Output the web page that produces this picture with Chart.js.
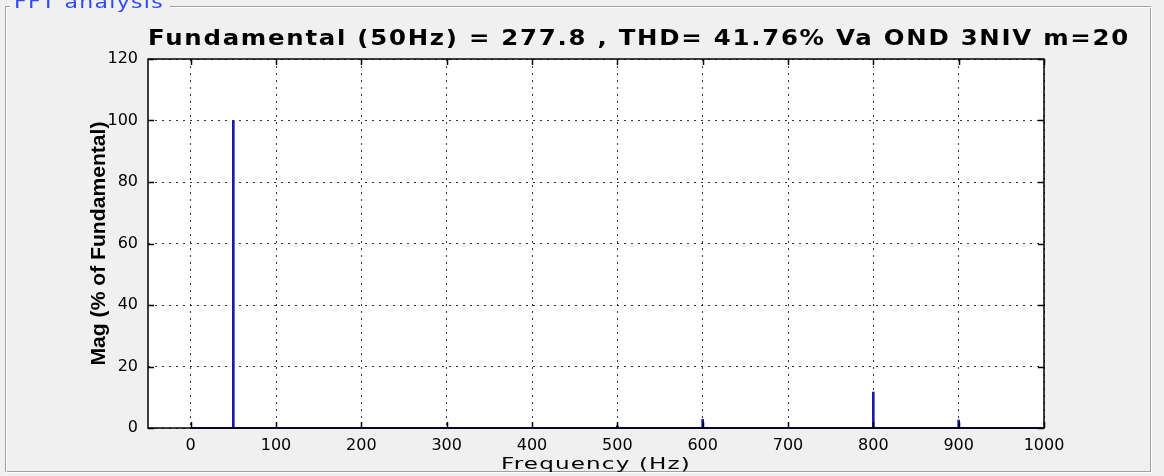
<!DOCTYPE html>
<html lang="en">
<head>
<meta charset="UTF-8">
<title>FFT analysis</title>
<script src="https://cdn.jsdelivr.net/npm/chart.js"></script>
<style>
  html, body { margin: 0; padding: 0; background: #f0f0f0; overflow: hidden; }
</style>
</head>
<body>
<canvas id="fft" width="1164" height="476"></canvas>
<script>
// harmonic frequencies (Hz) and magnitudes (% of fundamental)
const freqs = [0, 50, 100, 150, 200, 250, 300, 350, 400, 450, 500, 550, 600, 650, 700, 750, 800, 850, 900, 950, 1000];
const mags  = [0, 100, 0, 0, 0.2, 0, 0.2, 0, 0.2, 0, 0.7, 0, 2.8, 0, 0.2, 0, 11.7, 0, 2.6, 0, 0];
const xTicks = [0, 100, 200, 300, 400, 500, 600, 700, 800, 900, 1000];
const yTicks = [0, 20, 40, 60, 80, 100, 120];

const titleText = 'Fundamental (50Hz) = 277.8 , THD= 41.76% Va OND 3NIV m=20';
const xTitle = 'Frequency (Hz)';
const yTitle = 'Mag (% of Fundamental)';
const panelLabel = 'FFT analysis';

const BLUE = '#1a1aa6';
const FONT = '"Liberation Sans", Arial, sans-serif';
const WIDE = '"DejaVu Sans", Verdana, sans-serif';

// draw text with a little letter spacing, stretched horizontally to a width
function fitText(ctx, text, x, y, width, spacing) {
  ctx.letterSpacing = spacing + 'px';
  const w = ctx.measureText(text).width;
  ctx.save();
  ctx.translate(x, y);
  ctx.scale(width / w, 1);
  ctx.fillText(text, 0, 0);
  ctx.restore();
  ctx.letterSpacing = '0px';
}

// panel background + groupbox frame
const panelPlugin = {
  id: 'panel',
  beforeDraw(chart) {
    const ctx = chart.ctx;
    ctx.save();
    ctx.fillStyle = '#f0f0f0';
    ctx.fillRect(0, 0, chart.width, chart.height);
    ctx.lineWidth = 1;
    ctx.strokeStyle = '#a0a0a0';
    ctx.strokeRect(5.5, 6.5, 1145, 465);
    ctx.strokeStyle = '#ffffff';
    ctx.strokeRect(6.5, 7.5, 1145, 465);
    ctx.font = '17px ' + WIDE;
    ctx.fillStyle = '#f0f0f0';
    ctx.fillRect(10, 0, 160, 12);
    ctx.fillStyle = '#2f4cf0';
    ctx.textAlign = 'left';
    ctx.textBaseline = 'alphabetic';
    fitText(ctx, panelLabel, 14, 8, 150, 1);
    ctx.restore();
  }
};

// white plot area, box, inner tick marks, titles
const axesPlugin = {
  id: 'axesBox',
  beforeDraw(chart) {
    const { ctx, chartArea: a } = chart;
    ctx.save();
    ctx.fillStyle = '#ffffff';
    ctx.fillRect(a.left, a.top, a.right - a.left, a.bottom - a.top);
    ctx.restore();
  },
  afterDraw(chart) {
    const { ctx, chartArea: a, scales } = chart;
    ctx.save();
    ctx.strokeStyle = '#000';
    ctx.lineWidth = 1.5;
    ctx.strokeRect(a.left, a.top, a.right - a.left, a.bottom - a.top);
    const len = 6;
    ctx.beginPath();
    xTicks.forEach(v => {
      const x = Math.round(scales.x.getPixelForValue(v)) + 0.5;
      ctx.moveTo(x, a.bottom); ctx.lineTo(x, a.bottom - len);
      ctx.moveTo(x, a.top); ctx.lineTo(x, a.top + len);
    });
    yTicks.forEach(v => {
      const y = Math.round(scales.y.getPixelForValue(v)) + 0.5;
      ctx.moveTo(a.left, y); ctx.lineTo(a.left + len, y);
      ctx.moveTo(a.right, y); ctx.lineTo(a.right - len, y);
    });
    ctx.stroke();

    const cx = (a.left + a.right) / 2;
    ctx.fillStyle = '#000';
    ctx.textAlign = 'left';
    ctx.textBaseline = 'middle';
    // title
    ctx.font = 'bold 21px ' + WIDE;
    fitText(ctx, titleText, 148, 40, 982, 1.5);
    // x title
    ctx.font = '16px ' + WIDE;
    fitText(ctx, xTitle, cx - 95, 465, 190, 0.8);
    // y title
    ctx.font = 'bold 21px ' + FONT;
    ctx.translate(99, (a.top + a.bottom) / 2);
    ctx.rotate(-Math.PI / 2);
    fitText(ctx, yTitle, -122, 0, 244, 0);
    ctx.restore();
  }
};

new Chart(document.getElementById('fft').getContext('2d'), {
  type: 'bar',
  data: {
    datasets: [
      {
        type: 'line',
        data: freqs.map(f => ({ x: f, y: 0 })),
        borderColor: BLUE,
        borderWidth: 2,
        pointRadius: 0,
        clip: false,
        order: 1
      },
      {
        data: freqs.map((f, i) => ({ x: f, y: mags[i] })),
        backgroundColor: BLUE,
        barThickness: 2,
        order: 0
      }
    ]
  },
  options: {
    responsive: false,
    animation: false,
    layout: { padding: { left: 0, top: 59, right: 120, bottom: 0 } },
    plugins: {
      legend: { display: false },
      tooltip: { enabled: false },
      title: { display: false }
    },
    scales: {
      x: {
        type: 'linear',
        min: -50,
        max: 1000,
        offset: false,
        afterBuildTicks: s => { s.ticks = xTicks.map(v => ({ value: v })); },
        afterFit: s => { s.height = 48; },
        ticks: {
          color: '#000',
          padding: 8,
          font: { family: WIDE, size: 16 },
          maxRotation: 0,
          autoSkip: false,
          callback: v => String(v)
        },
        grid: { color: 'rgba(0,0,0,0.8)', lineWidth: 1, drawTicks: false, offset: false },
        border: { display: false, dash: [2, 5] }
      },
      y: {
        min: 0,
        max: 120,
        afterBuildTicks: s => { s.ticks = yTicks.map(v => ({ value: v })); },
        afterFit: s => { s.width = 148; },
        ticks: {
          color: '#000',
          padding: 10,
          font: { family: WIDE, size: 16 },
          callback: v => String(v)
        },
        grid: { color: 'rgba(0,0,0,0.8)', lineWidth: 1, drawTicks: false },
        border: { display: false, dash: [2, 5] }
      }
    }
  },
  plugins: [panelPlugin, axesPlugin]
});
</script>
</body>
</html>
